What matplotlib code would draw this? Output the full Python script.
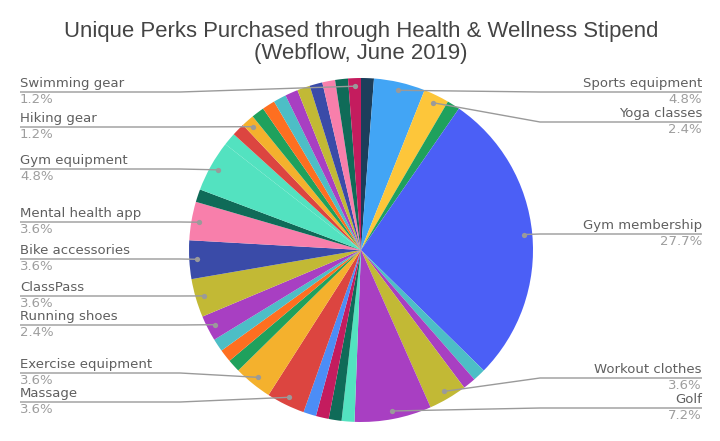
import matplotlib
matplotlib.use("Agg")
import matplotlib.pyplot as plt
import numpy as np

# ---- data (clockwise from 12 o'clock) ----
categories = ["", "Sports equipment", "Yoga classes", "", "Gym membership",
              "", "", "Workout clothes", "Golf", "", "", "", "",
              "Massage", "Exercise equipment", "", "", "", "Running shoes",
              "ClassPass", "Bike accessories", "Mental health app", "",
              "Gym equipment", "", "", "Hiking gear", "", "", "", "", "",
              "", "", "", "Swimming gear"]
values = [1, 4, 2, 1, 23, 1, 1, 3, 6, 1, 1, 1, 1, 3, 3, 1, 1, 1, 2,
          3, 3, 3, 1, 4, 1, 1, 1, 1, 1, 1, 1, 1, 1, 1, 1, 1]
colors = ["#1c3e5b", "#42a5f5", "#fdc63a", "#1fa15d", "#4b5ff6",
          "#4dbec6", "#a83fc2", "#c2b935", "#a83fc2", "#53e2c0", "#0f6b58",
          "#c41c5e", "#4c8df6", "#dc4540", "#f4b12d", "#1fa15d", "#fe6f20",
          "#4dbec6", "#a83fc2", "#c2b935", "#3a4ba8", "#f87fab", "#0f6b58",
          "#53e2c0", "#53e2c0", "#dc4540", "#f4b12d", "#1fa15d", "#fe6f20",
          "#4dbec6", "#a83fc2", "#c2b935", "#3a4ba8", "#f87fab", "#0f6b58",
          "#c41c5e"]
title_lines = ["Unique Perks Purchased through Health & Wellness Stipend",
               "(Webflow, June 2019)"]

# ---- layout ----
W, H = 720, 441
label_line_y = {"Swimming gear": 92, "Hiking gear": 127, "Gym equipment": 169,
                "Mental health app": 222, "Bike accessories": 259,
                "ClassPass": 296, "Running shoes": 325,
                "Exercise equipment": 373, "Massage": 402,
                "Sports equipment": 92, "Yoga classes": 122,
                "Gym membership": 234, "Workout clothes": 378, "Golf": 408}

fig = plt.figure(figsize=(W / 100, H / 100), dpi=100)
ax = fig.add_axes([0, 0, 1, 1])

def Y(y):
    return H - y

cx, cy, R = 361, Y(250), 172
wedges, _ = ax.pie(values, colors=colors, startangle=90, counterclock=False,
                   center=(cx, cy), radius=R, wedgeprops=dict(linewidth=0))
ax.set_xlim(0, W)
ax.set_ylim(0, H)
ax.set_aspect("equal")
ax.axis("off")

total = sum(values)
name_col = "#5f5f5f"
pct_col = "#9e9e9e"
line_col = "#9a9a9a"
fs = 9.5
for w, cat, v in zip(wedges, categories, values):
    if not cat:
        continue
    mid = np.deg2rad((w.theta1 + w.theta2) / 2)
    dx = cx + 0.953 * R * np.cos(mid)
    dy = cy + 0.953 * R * np.sin(mid)
    ly = Y(label_line_y[cat])
    pct = f"{100 * v / total:.1f}%"
    if dx < cx:
        xs = [20, 180, dx]
        ys = [ly, ly, dy]
        ax.text(20, ly + 2, cat, ha="left", va="bottom", fontsize=fs,
                color=name_col, family="DejaVu Sans")
        ax.text(20, ly - 1, pct, ha="left", va="top", fontsize=fs,
                color=pct_col, family="DejaVu Sans")
    else:
        xs = [dx, 540, 702]
        ys = [dy, ly, ly]
        ax.text(702, ly + 2, cat, ha="right", va="bottom", fontsize=fs,
                color=name_col, family="DejaVu Sans")
        ax.text(702, ly - 1, pct, ha="right", va="top", fontsize=fs,
                color=pct_col, family="DejaVu Sans")
    ax.plot(xs, ys, color=line_col, lw=1.0, solid_capstyle="butt")
    ax.plot([dx], [dy], "o", color=line_col, ms=3.8, mec="none")

ax.text(361, Y(31), title_lines[0], ha="center", va="center", fontsize=15.9,
        color="#444444", family="Liberation Sans")
ax.text(361, Y(53), title_lines[1], ha="center", va="center", fontsize=15.9,
        color="#444444", family="Liberation Sans")

fig.savefig("out.png", dpi=100)
